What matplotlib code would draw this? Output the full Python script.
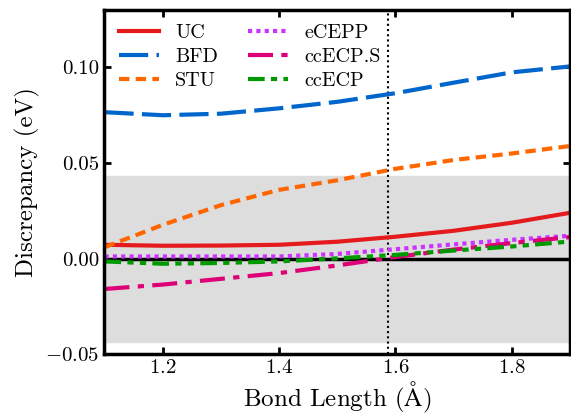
import matplotlib
matplotlib.use("Agg")
import matplotlib.pyplot as plt

plt.rcParams['font.family'] = 'serif'
plt.rcParams['font.serif'] = ['cmr10']
plt.rcParams['mathtext.fontset'] = 'cm'
plt.rcParams['axes.formatter.use_mathtext'] = True

# bond lengths (Angstrom)
r = [1.1, 1.2, 1.3, 1.4, 1.5, 1.6, 1.7, 1.8, 1.9]

uc = [0.0073, 0.0068, 0.0069, 0.0073, 0.0089, 0.0115, 0.0146, 0.0188, 0.024]
bfd = [0.0766, 0.075, 0.0758, 0.0786, 0.082, 0.0865, 0.092, 0.0974, 0.1005]
stu = [0.006, 0.0177, 0.028, 0.036, 0.041, 0.047, 0.0516, 0.055, 0.0589]
ecepp = [0.0012, 0.0012, 0.0012, 0.0012, 0.0025, 0.005, 0.0075, 0.0099, 0.012]
ccecp_s = [-0.0158, -0.0135, -0.0105, -0.0075, -0.0035, 0.0009, 0.0048, 0.0082, 0.0113]
ccecp = [-0.0014, -0.0026, -0.0022, -0.0014, 0.0002, 0.002, 0.0043, 0.0064, 0.009]

eq_bond = 1.588
chem_acc = 0.0434

fig, ax = plt.subplots(figsize=(5.71, 4.16), dpi=100)

ax.axhspan(-chem_acc, chem_acc, color='#dddddd', zorder=0)
ax.axhline(0, color='black', lw=2.5, zorder=1)
ax.axvline(eq_bond, color='black', lw=1.5, ls=(0, (1, 1.5)), zorder=1)

lw = 3
ax.plot(r, uc, color='#e41a1c', lw=lw, ls='-', label='UC')
ax.plot(r, bfd, color='#0066cc', lw=lw, ls=(0, (7, 2)), label='BFD')
ax.plot(r, stu, color='#ff6600', lw=lw, ls=(0, (2.5, 1.5)), label='STU')
ax.plot(r, ecepp, color='#cc33ff', lw=lw, ls=(0, (1, 1)), label='eCEPP')
ax.plot(r, ccecp_s, color='#dd0077', lw=lw, ls=(0, (6, 2, 1.5, 2)), label='ccECP.S')
ax.plot(r, ccecp, color='#009900', lw=lw, ls=(0, (4, 1.5, 1.5, 1.5, 1.5, 1.5)), label='ccECP')

ax.set_xlim(1.1, 1.9)
ax.set_ylim(-0.05, 0.13)
ax.set_xticks([1.2, 1.4, 1.6, 1.8])
ax.set_yticks([-0.05, 0.0, 0.05, 0.10])
ax.set_yticklabels(['$-0.05$', '0.00', '0.05', '0.10'])
ax.tick_params(direction='in', top=True, right=True, width=2, length=5, labelsize=15)
for s in ax.spines.values():
    s.set_linewidth(2.5)

ax.set_xlabel(r'Bond Length ($\mathrm{\AA}$)', fontsize=18, labelpad=2)
ax.set_ylabel('Discrepancy (eV)', fontsize=18)

ax.legend(ncol=2, frameon=False, loc='upper left', fontsize=14.5,
          handlelength=2.0, handletextpad=0.8, columnspacing=1.5,
          labelspacing=0.3, borderaxespad=0.4, borderpad=0.3)

fig.subplots_adjust(left=0.183, right=0.998, top=0.976, bottom=0.148)
fig.savefig('out.png', dpi=100)
